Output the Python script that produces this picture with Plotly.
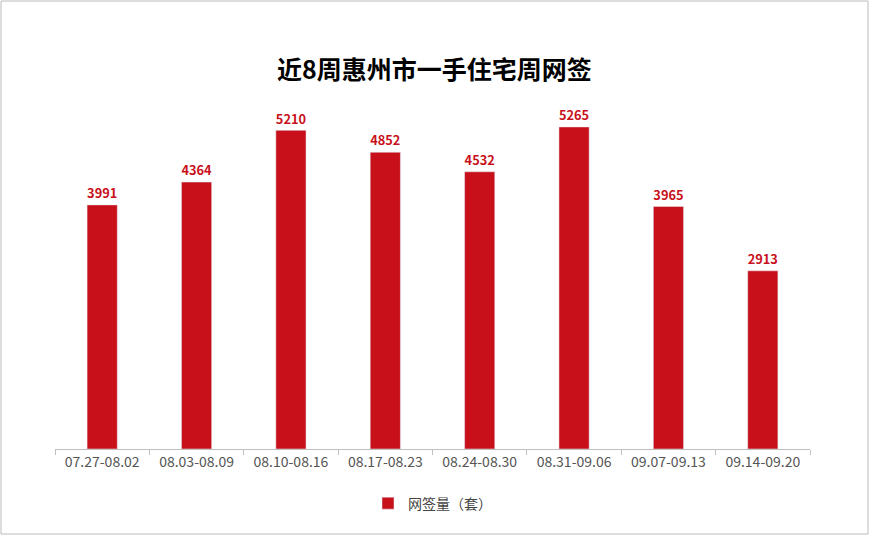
import plotly.graph_objects as go

weeks = ['07.27-08.02', '08.03-08.09', '08.10-08.16', '08.17-08.23',
         '08.24-08.30', '08.31-09.06', '09.07-09.13', '09.14-09.20']
signed = [3991, 4364, 5210, 4852, 4532, 5265, 3965, 2913]

red = '#C8101A'
font = 'Microsoft YaHei, Noto Sans CJK SC, sans-serif'

fig = go.Figure()
fig.add_trace(go.Bar(x=weeks, y=signed, name='网签量（套）', marker_color=red,
                     width=0.32, text=[f'<b>{v}</b>' for v in signed], textposition='outside',
                     textfont=dict(color=red, size=17, family=font), cliponaxis=False))

fig.update_layout(
    width=869, height=535,
    title=dict(text='<b>近8周惠州市一手住宅周网签</b>', x=0.5, y=0.885, xanchor='center',
               font=dict(size=25, color='black', family=font)),
    paper_bgcolor='white', plot_bgcolor='white',
    margin=dict(l=55, r=59, t=82, b=86),
    showlegend=True,
    legend=dict(orientation='h', x=0.5, xanchor='center', y=-0.105, yanchor='top',
                font=dict(size=14, color='#444', family=font)),
    font=dict(family=font),
    shapes=[dict(type='rect', xref='paper', yref='paper', x0=-54/755, x1=1+58/755,
                 y0=-85/367, y1=1+81/367, line=dict(color='#BBBBBB', width=1))],
)
fig.update_xaxes(showline=True, linecolor='#BFBFBF', ticks='outside', tickcolor='#BFBFBF',
                 ticklen=5, tickson='boundaries', tickfont=dict(size=14, color='#555'))
fig.update_yaxes(range=[0, 6000], visible=False, showgrid=False)

fig.write_html('out.html', config={'displayModeBar': False})

# drop the default page margin so the chart sits at the window edge
with open('out.html', encoding='utf-8') as f:
    page = f.read()
page = page.replace('<head>', '<head><style>body{margin:0;overflow:hidden}</style>', 1)
with open('out.html', 'w', encoding='utf-8') as f:
    f.write(page)
